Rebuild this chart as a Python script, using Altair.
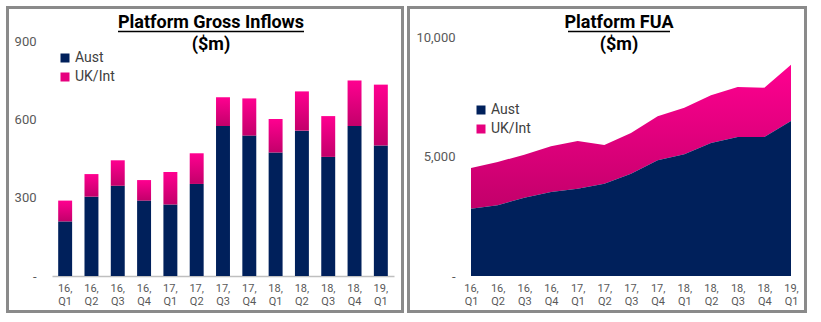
import altair as alt
import pandas as pd

# ---- data ----
quarters = ["16, Q1", "16, Q2", "16, Q3", "16, Q4", "17, Q1", "17, Q2", "17, Q3",
            "17, Q4", "18, Q1", "18, Q2", "18, Q3", "18, Q4", "19, Q1"]
inflows_aust = [210, 305, 347, 290, 275, 354, 577, 540, 475, 559, 458, 577, 502]
inflows_uk = [80, 87, 98, 79, 125, 118, 110, 143, 129, 151, 157, 175, 234]
fua_aust = [2817, 2957, 3278, 3515, 3654, 3863, 4282, 4840, 5091, 5565, 5816, 5816, 6485]
fua_uk = [1702, 1813, 1799, 1910, 1995, 1618, 1701, 1841, 1952, 1994, 2092, 2064, 2357]
series = ["Aust", "UK/Int"]
title_left = ["Platform Gross Inflows", "($m)"]
title_right = ["Platform FUA", "($m)"]

NAVY = "#00205B"
PINK = "#E6007E"
FRAME = "#8A8A8A"
LABEL = "#595959"
FONT = "Roboto"
NBSP = "\u00a0"

pink_grad = alt.Gradient(
    gradient="linear",
    stops=[alt.GradientStop(color="#FF0090", offset=0),
           alt.GradientStop(color="#C2006A", offset=1)],
    x1=0, x2=0, y1=0, y2=1,
)

one = pd.DataFrame({"k": [0]})


def frame(x1, x2, y1, y2):
    return alt.Chart(one).mark_rect(
        fill="white", fillOpacity=0, stroke=FRAME, strokeWidth=3
    ).encode(x=alt.value(x1), x2=alt.value(x2), y=alt.value(y1), y2=alt.value(y2))


def title_layers(lines, cx, y1, y2, ux1, ux2, uy):
    t1 = alt.Chart(pd.DataFrame({"t": [lines[0]]})).mark_text(
        font=FONT, fontSize=18, fontWeight="bold", color="black", align="center", baseline="alphabetic"
    ).encode(text="t:N", x=alt.value(cx), y=alt.value(y1))
    t2 = alt.Chart(pd.DataFrame({"t": [lines[1]]})).mark_text(
        font=FONT, fontSize=18, fontWeight="bold", color="black", align="center", baseline="alphabetic"
    ).encode(text="t:N", x=alt.value(cx), y=alt.value(y2))
    ul = alt.Chart(one).mark_rule(color="black", strokeWidth=1.3).encode(
        x=alt.value(ux1), x2=alt.value(ux2), y=alt.value(uy))
    return [t1, t2, ul]


def legend(lx, ly):
    return alt.Legend(
        title=None, orient="none", legendX=lx, legendY=ly, symbolType="square",
        symbolSize=81, symbolStrokeWidth=0, labelFont=FONT, labelFontSize=14,
        labelColor="#404040", rowPadding=5, labelOffset=3, padding=0, offset=0,
    )


def y_axis(values, fmt_zero):
    return alt.Axis(
        title=None, values=values, grid=False, domain=False, ticks=False,
        labelFont=FONT, labelFontSize=13, labelColor=LABEL, labelPadding=16,
        labelExpr="datum.value == 0 ? '" + fmt_zero + "' : format(datum.value, ',')",
    )


def x_axis(domain):
    return alt.Axis(
        title=None, labelAngle=0, labelExpr="split(datum.label, ' ')",
        labelFont=FONT, labelFontSize=11, labelColor=LABEL, labelLineHeight=13.5,
        labelBaseline="top", labelPadding=6, ticks=False,
        domain=domain, domainColor="#BFBFBF", domainWidth=1.5,
    )


# ---- left: gross inflows (stacked bars) ----
inflow_df = pd.DataFrame({"q": quarters, "aust": inflows_aust, "uk": inflows_uk})
inflow_df["total"] = inflow_df["aust"] + inflow_df["uk"]

xl = alt.X("q:N", sort=quarters, scale=alt.Scale(paddingInner=0.47, paddingOuter=0.235),
           axis=x_axis(True))
base_l = alt.Chart(inflow_df)
aust_bars = base_l.mark_bar().transform_calculate(series="'Aust'").encode(
    x=xl,
    y=alt.Y("aust:Q", scale=alt.Scale(domain=[0, 919.2], nice=False, zero=True),
            axis=y_axis([0, 300, 600, 900], "-" + NBSP * 2)),
    color=alt.Color("series:N", scale=alt.Scale(domain=series, range=[NAVY, PINK]),
                    legend=legend(6, 14)),
)
uk_bars = base_l.mark_bar(color=pink_grad).encode(
    x=alt.X("q:N", sort=quarters), y="total:Q", y2="aust:Q")

left = alt.layer(
    frame(-44.5, 350.5, -29.5, 274.5),
    aust_bars, uk_bars,
    *title_layers(title_left, 159, -9, 13, 66, 252, -5.5),
).properties(width=342, height=239)

# ---- right: FUA (stacked area) ----
fua_df = pd.DataFrame({"q": quarters, "aust": fua_aust, "uk": fua_uk})
fua_df["total"] = fua_df["aust"] + fua_df["uk"]

xr = alt.X("q:N", sort=quarters, scale=alt.Scale(type="point", padding=0), axis=x_axis(False))
base_r = alt.Chart(fua_df)
uk_area = base_r.mark_area(color=pink_grad).encode(
    x=xr,
    y=alt.Y("total:Q", scale=alt.Scale(domain=[0, 10000], nice=False),
            axis=y_axis([0, 5000, 10000], "-" + NBSP * 2)),
    y2="aust:Q",
)
aust_area = base_r.mark_area().transform_calculate(series="'Aust'").encode(
    x=alt.X("q:N", sort=quarters), y="aust:Q",
    color=alt.Color("series:N", scale=alt.Scale(domain=series, range=[NAVY, PINK]),
                    legend=legend(3, 66)),
)

right = alt.layer(
    frame(-62.5, 334.5, -29.5, 274.5),
    uk_area, aust_area,
    *title_layers(title_right, 148, -9, 13, 97, 199, -5.5),
).properties(width=320, height=239)

chart = alt.hconcat(left, right, spacing=3).resolve_scale(
    color="independent"
).resolve_legend(color="independent").properties(
    padding={"left": 6, "top": 6, "right": 0, "bottom": 0},
    background="white",
).configure_view(stroke=None)

chart.save("out.html", embed_options={"renderer": "svg", "actions": False})
